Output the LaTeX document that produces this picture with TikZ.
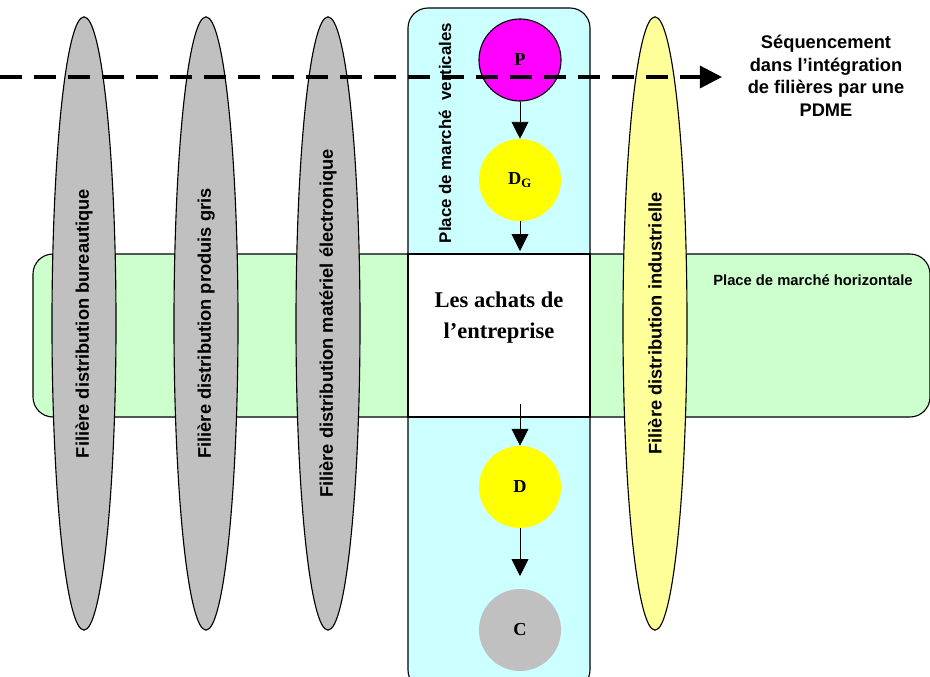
\documentclass[tikz,border=0pt]{standalone}
\usepackage{fontspec}
\setmainfont{Liberation Serif}
\setsansfont{Liberation Sans}
\usepackage{tikz}
\usetikzlibrary{arrows.meta,positioning,shapes.geometric}

\definecolor{vertmarche}{RGB}{204,255,204}
\definecolor{cyanmarche}{RGB}{204,255,255}
\definecolor{grisfil}{RGB}{192,192,192}
\definecolor{jaunefil}{RGB}{255,255,153}
\definecolor{jauneacteur}{RGB}{255,255,0}
\definecolor{rosep}{RGB}{255,0,255}

\begin{document}
\begin{tikzpicture}[
x=0.025cm,y=-0.025cm,
filiere/.style={ellipse, draw=black, thick, rotate=90, minimum width=15.33cm, minimum height=1.6cm, inner sep=0pt, font=\sffamily\bfseries\fontsize{13}{15}\selectfont},
acteur/.style={circle, minimum size=2.05cm, inner sep=0pt, font=\rmfamily\bfseries\fontsize{13}{15}\selectfont},
flux/.style={-{Triangle[length=0.42cm,width=0.42cm]}, semithick},
sequence/.style={-{Triangle[length=0.55cm,width=0.55cm]}, line width=2.2pt, dash pattern=on 0.55cm off 0.3cm}
]
\useasboundingbox (0,0) rectangle (930,677);
% place de marche horizontale
\draw[thick, fill=vertmarche, rounded corners=0.5cm] (33,254) rectangle (930,417);
\node[font=\sffamily\bfseries\fontsize{10.5}{12}\selectfont] (horiz) at (813,280) {Place de marché horizontale};
% filieres
\node[filiere, fill=grisfil] (fil1) at (84,323.5) {Filière distribution bureautique};
\node[filiere, fill=grisfil] (fil2) at (206,323.5) {Filière distribution produis gris};
\node[filiere, fill=grisfil] (fil3) at (328,323.5) {Filière distribution matériel électronique};
% place de marche verticale
\draw[thick, fill=cyanmarche, rounded corners=0.5cm] (408,8) rectangle (590,690);
\draw[thick, fill=white] (408,254) rectangle (590,417);
\node[font=\rmfamily\bfseries\fontsize{16}{22}\selectfont, align=center] (achats) at (499,318) {Les achats de\\l'entreprise};
\node[rotate=90, font=\sffamily\bfseries\fontsize{12}{14}\selectfont] (vert) at (445,133) {Place de marché\ \ verticales};
\node[filiere, fill=jaunefil] (fil4) at (655,323.5) {Filière distribution industrielle};
% acteurs
\node[acteur, draw=black, thick, fill=rosep] (P) at (520,60) {P};
\node[acteur, fill=jauneacteur] (DG) at (520,180) {D\textsubscript{G}};
\node[acteur, fill=jauneacteur] (D) at (520,487) {D};
\node[acteur, fill=grisfil] (C) at (520,630) {C};
\coordinate (achatsH) at (520,251);
\coordinate (achatsB) at (520,404);
\coordinate (versC) at (520,576);
\draw[flux] (P) -- (DG);
\draw[flux] (DG) -- (achatsH);
\draw[flux] (achatsB) -- (D);
\draw[flux] (D) -- (versC);
% sequencement
\coordinate (seqA) at (0,77);
\coordinate (seqB) at (722,77);
\draw[sequence] (seqA) -- (seqB);
\node[font=\sffamily\bfseries\fontsize{13}{16}\selectfont, align=center] (seq) at (826,76) {Séquencement\\dans l'intégration\\de filières par une\\PDME};
\end{tikzpicture}
\end{document}
